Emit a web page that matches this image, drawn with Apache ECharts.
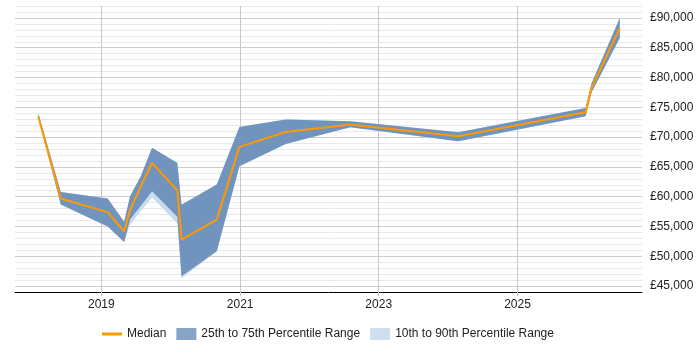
<!DOCTYPE html>
<html><head><meta charset="utf-8">
<script src="https://cdn.jsdelivr.net/npm/echarts@6/dist/echarts.min.js"></script>
<style>html,body{margin:0;padding:0;background:#fff}#c{width:700px;height:350px}</style>
</head><body><div id="c"></div>
<script>
const dates  = ['2018-02-03','2018-06-01','2019-02-03','2019-05-01','2019-06-01','2019-07-27','2019-09-25','2020-02-05','2020-02-27','2020-08-31','2020-12-28','2021-08-29','2022-08-04','2024-02-24','2025-12-26','2026-01-26','2026-06-24'];
const median = [73400, 59700, 57400, 54150, 57750, 61700, 65650, 61050, 52800, 56150, 68350, 70850, 72100, 70150, 74150, 78250, 88300];
const p25    = [73300, 58700, 55000, 52400, 56150, 58450, 60900, 56650, 46650, 50850, 65100, 68850, 71650, 69300, 73500, 77500, 86650];
const p75    = [74000, 60800, 59700, 55800, 60050, 63400, 68200, 65650, 58650, 62050, 71700, 72950, 72650, 70800, 74900, 79000, 90000];
const p10    = [73300, 58700, 55000, 52400, 55300, 57550, 59900, 55500, 46300, 50850, 65100, 68850, 71650, 69300, 73500, 77500, 86650];
const p90    = [74100, 60800, 59700, 55800, 60050, 63400, 68200, 65650, 58650, 62050, 71700, 72950, 72650, 70800, 74900, 79000, 90000];
const yearTicks = [2019, 2021, 2023, 2025];

const FONT = '"Liberation Sans", Arial, sans-serif';
const ts = s => { const p = s.split('-').map(Number); return new Date(p[0], p[1] - 1, p[2]).getTime(); };
const tickTs = yearTicks.map(y => new Date(y, 0, 1).getTime());
const X_MIN = new Date(2017, 9, 3).getTime();
const X_MAX = new Date(2026, 9, 19).getTime();
const pair = arr => dates.map((d, i) => [ts(d), arr[i]]);
const diff = (hi, lo) => dates.map((d, i) => [ts(d), hi[i] - lo[i]]);
const money = v => '£' + String(v).replace(/\B(?=(\d{3})+(?!\d))/g, ',');
const hidden = {width: 0, opacity: 0};

const chart = echarts.init(document.getElementById('c'), null, {renderer: 'canvas'});
chart.setOption({
  animation: false,
  textStyle: {fontFamily: FONT},
  grid: {left: 15, right: 58, top: 6, bottom: 58},
  legend: {
    left: 97, top: 323, itemWidth: 20, itemHeight: 12, itemGap: 10,
    textStyle: {fontSize: 12, color: '#222', fontFamily: FONT},
    selectedMode: false,
    data: [
      {name: 'Median', icon: 'path://M0,0H20V3H0Z', itemStyle: {color: '#ff9900'}},
      {name: '25th to 75th Percentile Range', icon: 'rect', itemStyle: {color: '#86a4c6'}},
      {name: '10th to 90th Percentile Range', icon: 'rect', itemStyle: {color: '#cddff0'}}
    ]
  },
  xAxis: [
    {
      type: 'time', min: X_MIN, max: X_MAX, show: false,
      splitLine: {show: false}
    },
    {
      type: 'value', position: 'bottom', min: X_MIN, max: X_MAX,
      axisLine: {lineStyle: {color: '#000', width: 1}},
      axisTick: {show: true, customValues: tickTs, length: 4, lineStyle: {color: '#c8c8c8'}},
      axisLabel: {customValues: tickTs, formatter: v => String(new Date(v).getFullYear()), color: '#222', fontSize: 12, margin: 7, fontFamily: FONT},
      splitLine: {show: true, lineStyle: {color: '#c8c8c8'}}
    }
  ],
  yAxis: {
    type: 'value', position: 'right', min: 44000, max: 92000, interval: 1000,
    axisLine: {show: false}, axisTick: {show: false},
    axisLabel: {formatter: v => (v % 5000 === 0 ? money(v) : ''), color: '#222', fontSize: 12, margin: 8, fontFamily: FONT},
    splitLine: {show: true, lineStyle: {color: ['#e8e8e8', '#cccccc', '#e8e8e8', '#e8e8e8', '#e8e8e8']}}
  },
  series: [
    {name: 'p10', type: 'line', stack: 'outer', data: pair(p10), symbol: 'none', lineStyle: hidden, silent: true},
    {name: '10th to 90th Percentile Range', type: 'line', stack: 'outer', data: diff(p90, p10), symbol: 'none',
     lineStyle: hidden, areaStyle: {color: '#c8daed', opacity: 1}, color: '#c8daed', silent: true},
    {name: 'p25', type: 'line', stack: 'inner', data: pair(p25), symbol: 'none', lineStyle: hidden, silent: true},
    {name: '25th to 75th Percentile Range', type: 'line', stack: 'inner', data: diff(p75, p25), symbol: 'none',
     lineStyle: hidden, areaStyle: {color: '#7094be', opacity: 1}, color: '#7094be', silent: true},
    {name: 'Median', type: 'line', data: pair(median), symbol: 'none', color: '#ff9900',
     lineStyle: {color: '#ff9900', width: 2}, silent: true}
  ]
});
</script></body></html>
